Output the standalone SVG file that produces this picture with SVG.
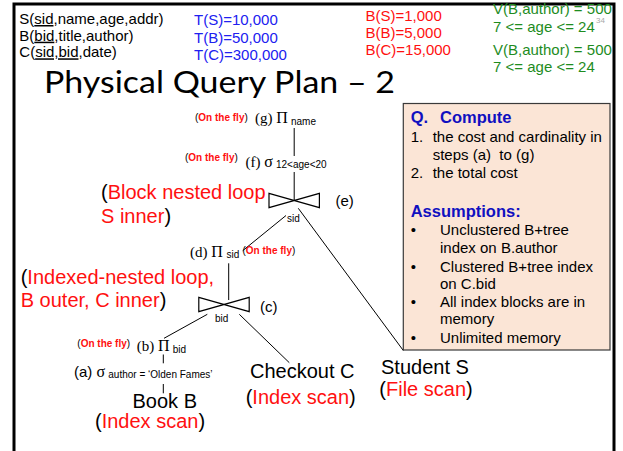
<svg xmlns="http://www.w3.org/2000/svg" xmlns:xlink="http://www.w3.org/1999/xlink" width="623" height="451" viewBox="0 0 623 451">
  <style>
    .sans { font-family: "Liberation Sans", Arial, sans-serif; }
    .serif { font-family: "Liberation Serif", "Times New Roman", serif; }
    .k { fill: #000; }
    .red { fill: #ff1010; }
    .blue { fill: #2020f0; }
    .green { fill: #1e8c1e; }
    .navy { fill: #1010c0; font-weight: bold; }
    .fly { font-size: 10px; }
    .fly .red { font-weight: bold; }
    .sub { font-size: 10px; }
    .big { font-size: 20px; }
    .body { font-size: 15px; }
    .greek { font-size: 16px; }
    .edge { stroke: #000; stroke-width: 1; fill: none; }
    .join { stroke: #000; stroke-width: 1.2; fill: none; stroke-linejoin: miter; }
  </style>
  <defs>
    <!-- bow-tie join symbol centred on its crossing point -->
    <path id="bowtie" class="join" d="M-25.2,-7.2 L25.2,7.2 L25.2,-7.2 L-25.2,7.2 Z"/>
  </defs>

  <rect width="623" height="451" fill="#fff"/>

  <!-- slide frame (open at the bottom) -->
  <path d="M14,451 L14,4 L614,4 L614,451" fill="none" stroke="#000" stroke-width="3"/>

  <!-- schema and statistics -->
  <g id="schema" class="sans body k">
    <text x="19.3" y="24">S(<tspan text-decoration="underline">sid</tspan>,name,age,addr)</text>
    <text x="19.3" y="40.7">B(<tspan text-decoration="underline">bid</tspan>,title,author)</text>
    <text x="19.3" y="57.3">C(<tspan text-decoration="underline">sid,bid</tspan>,date)</text>
  </g>
  <g id="tuples" class="sans body blue">
    <text x="194" y="25">T(S)=10,000</text>
    <text x="194" y="42.5">T(B)=50,000</text>
    <text x="194" y="60">T(C)=300,000</text>
  </g>
  <g id="blocks" class="sans body red">
    <text x="365.5" y="20.5">B(S)=1,000</text>
    <text x="365.5" y="37.5">B(B)=5,000</text>
    <text x="365.5" y="55">B(C)=15,000</text>
  </g>
  <g id="selectivity" class="sans body green">
    <text x="493" y="14">V(B,author) = 500</text>
    <text x="493" y="31.7">7 &lt;= age &lt;= 24</text>
    <text x="493" y="55">V(B,author) = 500</text>
    <text x="493" y="71.7">7 &lt;= age &lt;= 24</text>
  </g>
  <text x="596" y="22.5" class="sans" font-size="8" fill="#a8a8a8">34</text>

  <!-- title -->
  <text id="title" x="44" y="93.3" font-family="Lato, 'Open Sans', sans-serif" font-size="31.4" textLength="351" lengthAdjust="spacingAndGlyphs" fill="#000">Physical Query Plan – 2</text>

  <!-- connectors of the plan tree -->
  <g id="connectors" class="edge">
    <line x1="294.2" y1="128" x2="294.2" y2="156"/>
    <line x1="294.2" y1="172" x2="294.2" y2="200.5"/>
    <line x1="286" y1="215.5" x2="242.7" y2="250.7"/>
    <line x1="298.3" y1="208.3" x2="403.3" y2="350.5"/>
    <line x1="228.7" y1="263.3" x2="228.7" y2="300"/>
    <line x1="207.3" y1="314.3" x2="164" y2="338.3"/>
    <line x1="239.3" y1="314.3" x2="289.3" y2="362.7"/>
    <line x1="163.3" y1="354.5" x2="163.3" y2="363.3"/>
    <line x1="163.3" y1="384" x2="163.3" y2="393.3"/>
  </g>

  <!-- (g) projection on name -->
  <g id="g-project">
    <text x="195" y="120.7" class="sans fly"><tspan class="k">(</tspan><tspan class="red">On the fly</tspan><tspan class="k">)</tspan></text>
    <text x="255" y="122.5" class="serif body k">(g) <tspan class="greek">Π</tspan></text>
    <text x="291" y="124.5" class="sans sub k">name</text>
  </g>

  <!-- (f) selection on age -->
  <g id="f-select">
    <text x="185" y="160.7" class="sans fly"><tspan class="k">(</tspan><tspan class="red">On the fly</tspan><tspan class="k">)</tspan></text>
    <text x="245.5" y="167" class="serif body k">(f) <tspan class="greek">σ</tspan></text>
    <text x="276" y="168.3" class="sans sub k">12&lt;age&lt;20</text>
  </g>

  <!-- (e) block nested loop join on sid -->
  <g id="e-join">
    <use xlink:href="#bowtie" x="294.2" y="200.5"/>
    <text x="335.5" y="206" class="sans body k">(e)</text>
    <text x="287" y="221.5" class="sans sub k">sid</text>
    <text x="101" y="199.3" class="sans big"><tspan class="k">(</tspan><tspan class="red">Block nested loop</tspan></text>
    <text x="101" y="222.5" class="sans big"><tspan class="red">S inner</tspan><tspan class="k">)</tspan></text>
  </g>

  <!-- (d) projection on sid -->
  <g id="d-project">
    <text x="190" y="256.7" class="serif body k">(d) <tspan class="greek">Π</tspan></text>
    <text x="226.5" y="257.8" class="sans sub k">sid</text>
    <text x="242.5" y="254.3" class="sans fly"><tspan class="k">(</tspan><tspan class="red">On the fly</tspan><tspan class="k">)</tspan></text>
  </g>

  <!-- (c) indexed nested loop join on bid -->
  <g id="c-join">
    <use xlink:href="#bowtie" x="224" y="304.5"/>
    <text x="260" y="311.7" class="sans body k">(c)</text>
    <text x="215" y="322.3" class="sans sub k">bid</text>
    <text x="20.7" y="284" class="sans big"><tspan class="k">(</tspan><tspan class="red">Indexed-nested loop,</tspan></text>
    <text x="20.7" y="307.3" class="sans big"><tspan class="red">B outer, C inner</tspan><tspan class="k">)</tspan></text>
  </g>

  <!-- (b) projection on bid -->
  <g id="b-project">
    <text x="77.3" y="346.7" class="sans fly"><tspan class="k">(</tspan><tspan class="red">On the fly</tspan><tspan class="k">)</tspan></text>
    <text x="136.7" y="351" class="serif body k">(b) <tspan class="greek">Π</tspan></text>
    <text x="172.7" y="353.3" class="sans sub k">bid</text>
  </g>

  <!-- (a) selection on author -->
  <g id="a-select">
    <text x="74" y="376.7" class="sans body k">(a) <tspan class="serif greek">σ</tspan></text>
    <text x="108.3" y="378.3" class="sans sub k">author = ‘Olden Fames’</text>
  </g>

  <!-- base relations -->
  <g id="book">
    <text x="132.5" y="408.3" class="sans big k">Book B</text>
    <text x="95" y="428.3" class="sans big"><tspan class="k">(</tspan><tspan class="red">Index scan</tspan><tspan class="k">)</tspan></text>
  </g>
  <g id="checkout">
    <text x="250" y="378.3" class="sans big k">Checkout C</text>
    <text x="245.7" y="404.3" class="sans big"><tspan class="k">(</tspan><tspan class="red">Index scan</tspan><tspan class="k">)</tspan></text>
  </g>
  <g id="student">
    <text x="381" y="374" class="sans big k">Student S</text>
    <text x="379.3" y="396" class="sans big"><tspan class="k">(</tspan><tspan class="red">File scan</tspan><tspan class="k">)</tspan></text>
  </g>

  <!-- question and assumptions panel -->
  <g id="question">
    <rect x="403.3" y="103.5" width="206.7" height="246.5" fill="#fbe5d6" stroke="#3a3a3a" stroke-width="1.2"/>
    <text x="410.7" y="122.5" class="sans navy" font-size="16.5">Q.</text>
    <text x="440" y="122.5" class="sans navy" font-size="16.5">Compute</text>
    <g class="sans body k">
      <text x="410.7" y="141.7">1.</text>
      <text x="432.7" y="141.7">the cost and cardinality in</text>
      <text x="432.7" y="160" xml:space="preserve">steps (a)  to (g)</text>
      <text x="410.7" y="177.5">2.</text>
      <text x="432.7" y="177.5">the total cost</text>
    </g>
    <text x="410.7" y="217" class="sans navy" font-size="16.5">Assumptions:</text>
    <g class="sans body k">
      <text x="410.7" y="235">•</text>
      <text x="440" y="235">Unclustered B+tree</text>
      <text x="440" y="253">index on B.author</text>
      <text x="410.7" y="271.5">•</text>
      <text x="440" y="271.5">Clustered B+tree index</text>
      <text x="440" y="289">on C.bid</text>
      <text x="410.7" y="306.7">•</text>
      <text x="440" y="306.7">All index blocks are in</text>
      <text x="440" y="324.2">memory</text>
      <text x="410.7" y="342.5">•</text>
      <text x="440" y="342.5">Unlimited memory</text>
    </g>
  </g>
</svg>
